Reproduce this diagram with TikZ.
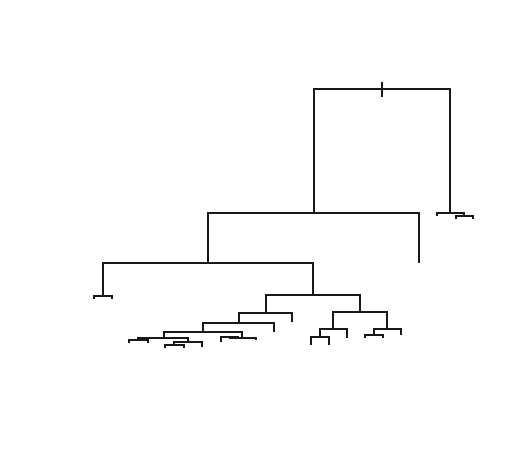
\documentclass[tikz,border=0pt]{standalone}
\begin{document}
\begin{tikzpicture}[x=1pt,y=-1pt,
  edge/.style={draw=black!90,line width=1.35pt}]
\useasboundingbox (0,0) rectangle (529,457);
% internal nodes
\coordinate (R) at (382,89);
\coordinate (A) at (314,213);
\coordinate (B) at (450,213);
\coordinate (B1) at (437,216);
\coordinate (B2) at (464,216);
\coordinate (B2a) at (456,219);
\coordinate (B2b) at (473,219);
\coordinate (C) at (208,263);
\coordinate (Al) at (419,263);
\coordinate (D) at (103,296);
\coordinate (Da) at (94,299);
\coordinate (Db) at (112,299);
\coordinate (E) at (313,295);
\coordinate (F) at (266,313);
\coordinate (G) at (360,312);
\coordinate (H) at (239,323);
\coordinate (Fl) at (292,322);
\coordinate (I) at (203,332);
\coordinate (Hl) at (274,332);
\coordinate (J) at (164,338);
\coordinate (K) at (242,338);
\coordinate (L) at (138,340);
\coordinate (M) at (188,342);
\coordinate (La) at (129,343);
\coordinate (Lb) at (148,343);
\coordinate (N) at (174,345);
\coordinate (Ml) at (202,347);
\coordinate (Na) at (165,348);
\coordinate (Nb) at (184,348);
\coordinate (K1) at (229.5,337);
\coordinate (Kl) at (256,340);
\coordinate (K1a) at (221,342);
\coordinate (K1b) at (238,339);
\coordinate (O) at (333,329);
\coordinate (P) at (387,329);
\coordinate (Q) at (320,337);
\coordinate (Ol) at (347,338);
\coordinate (Qa) at (311,345);
\coordinate (Qb) at (329,345);
\coordinate (S) at (374,335);
\coordinate (Pl) at (401,335);
\coordinate (Sa) at (365,338);
\coordinate (Sb) at (383,338);
\coordinate (Rt) at (382,82);
\coordinate (Rb) at (382,97);
% tick at root
\draw[edge] (Rt) -- (Rb);
% elbows
\draw[edge] (A) |- (R) -| (B);
\draw[edge] (B1) |- (B) -| (B2);
\draw[edge] (B2a) |- (B2) -| (B2b);
\draw[edge] (C) |- (A) -| (Al);
\draw[edge] (D) |- (C) -| (E);
\draw[edge] (Da) |- (D) -| (Db);
\draw[edge] (F) |- (E) -| (G);
\draw[edge] (H) |- (F) -| (Fl);
\draw[edge] (I) |- (H) -| (Hl);
\draw[edge] (J) |- (I) -| (K);
\draw[edge] (L) |- (J) -| (M);
\draw[edge] (La) |- (L) -| (Lb);
\draw[edge] (N) |- (M) -| (Ml);
\draw[edge] (Na) |- (N) -| (Nb);
\draw[edge] (K1) |- (K) -| (Kl);
\draw[edge] (K1a) |- (K1) -| (K1b);
\draw[edge] (O) |- (G) -| (P);
\draw[edge] (Q) |- (O) -| (Ol);
\draw[edge] (Qa) |- (Q) -| (Qb);
\draw[edge] (S) |- (P) -| (Pl);
\draw[edge] (Sa) |- (S) -| (Sb);
\end{tikzpicture}
\end{document}
